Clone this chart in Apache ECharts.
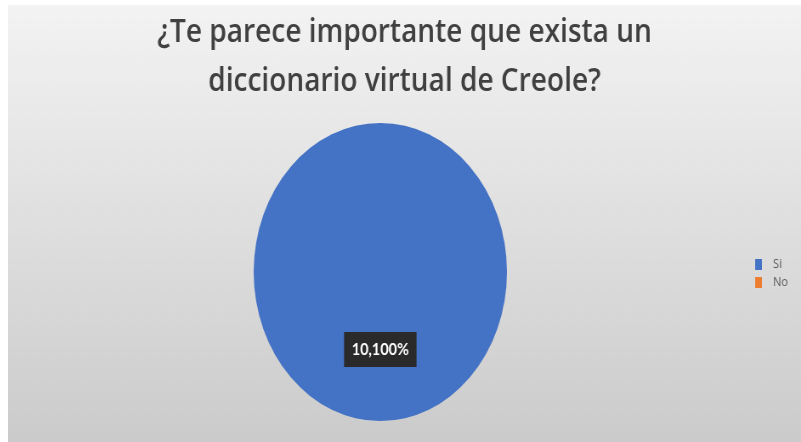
<!DOCTYPE html>
<html>
<head>
<meta charset="utf-8">
<script src="https://cdn.jsdelivr.net/npm/echarts@6/dist/echarts.min.js"></script>
<style>
  html, body { margin: 0; padding: 0; background: #ffffff; width: 801px; height: 442px; overflow: hidden; }
  #chart { position: absolute; left: 8px; top: 5px; width: 933px; height: 437px; transform: scaleX(0.85); transform-origin: 0 0; }
</style>
</head>
<body>
<div id="chart"></div>
<script>
const titleLines = ['¿Te parece importante que exista un', 'diccionario virtual de Creole?'];
const categories = ['Si', 'No'];
const values = [10100, 0];
const colors = ['#4472C4', '#ED7D31'];

const chart = echarts.init(document.getElementById('chart'), null, { renderer: 'canvas' });
chart.setOption({
  backgroundColor: {
    type: 'linear', x: 0, y: 0, x2: 0, y2: 1,
    colorStops: [{ offset: 0, color: '#f3f3f3' }, { offset: 1, color: '#cbcbcb' }]
  },
  animation: false,
  color: colors,
  title: {
    text: titleLines.join('\n'),
    left: 'center',
    top: -2,
    textStyle: { fontFamily: 'Open Sans', fontWeight: 600, fontSize: 33, lineHeight: 49, color: '#404040' }
  },
  legend: {
    orient: 'vertical',
    left: 874,
    top: 248,
    itemWidth: 8,
    itemHeight: 11,
    itemGap: 5,
    icon: 'rect',
    data: categories,
    textStyle: { fontFamily: 'Open Sans', fontSize: 13, color: '#595959', padding: [0, 0, 0, 8] }
  },
  series: [{
    type: 'pie',
    center: [438, 267],
    radius: 149,
    startAngle: 90,
    clockwise: true,
    silent: true,
    label: {
      show: true,
      position: 'inside',
      formatter: p => p.value.toLocaleString('en-US') + '%',
      color: '#ffffff',
      fontFamily: 'Lato',
      fontWeight: 'bold',
      fontSize: 17,
      backgroundColor: '#2a2a2a',
      padding: [9, 9]
    },
    labelLine: { show: false },
    data: categories.map((c, i) => ({ name: c, value: values[i], label: { show: values[i] > 0 } }))
  }]
});
</script>
</body>
</html>
